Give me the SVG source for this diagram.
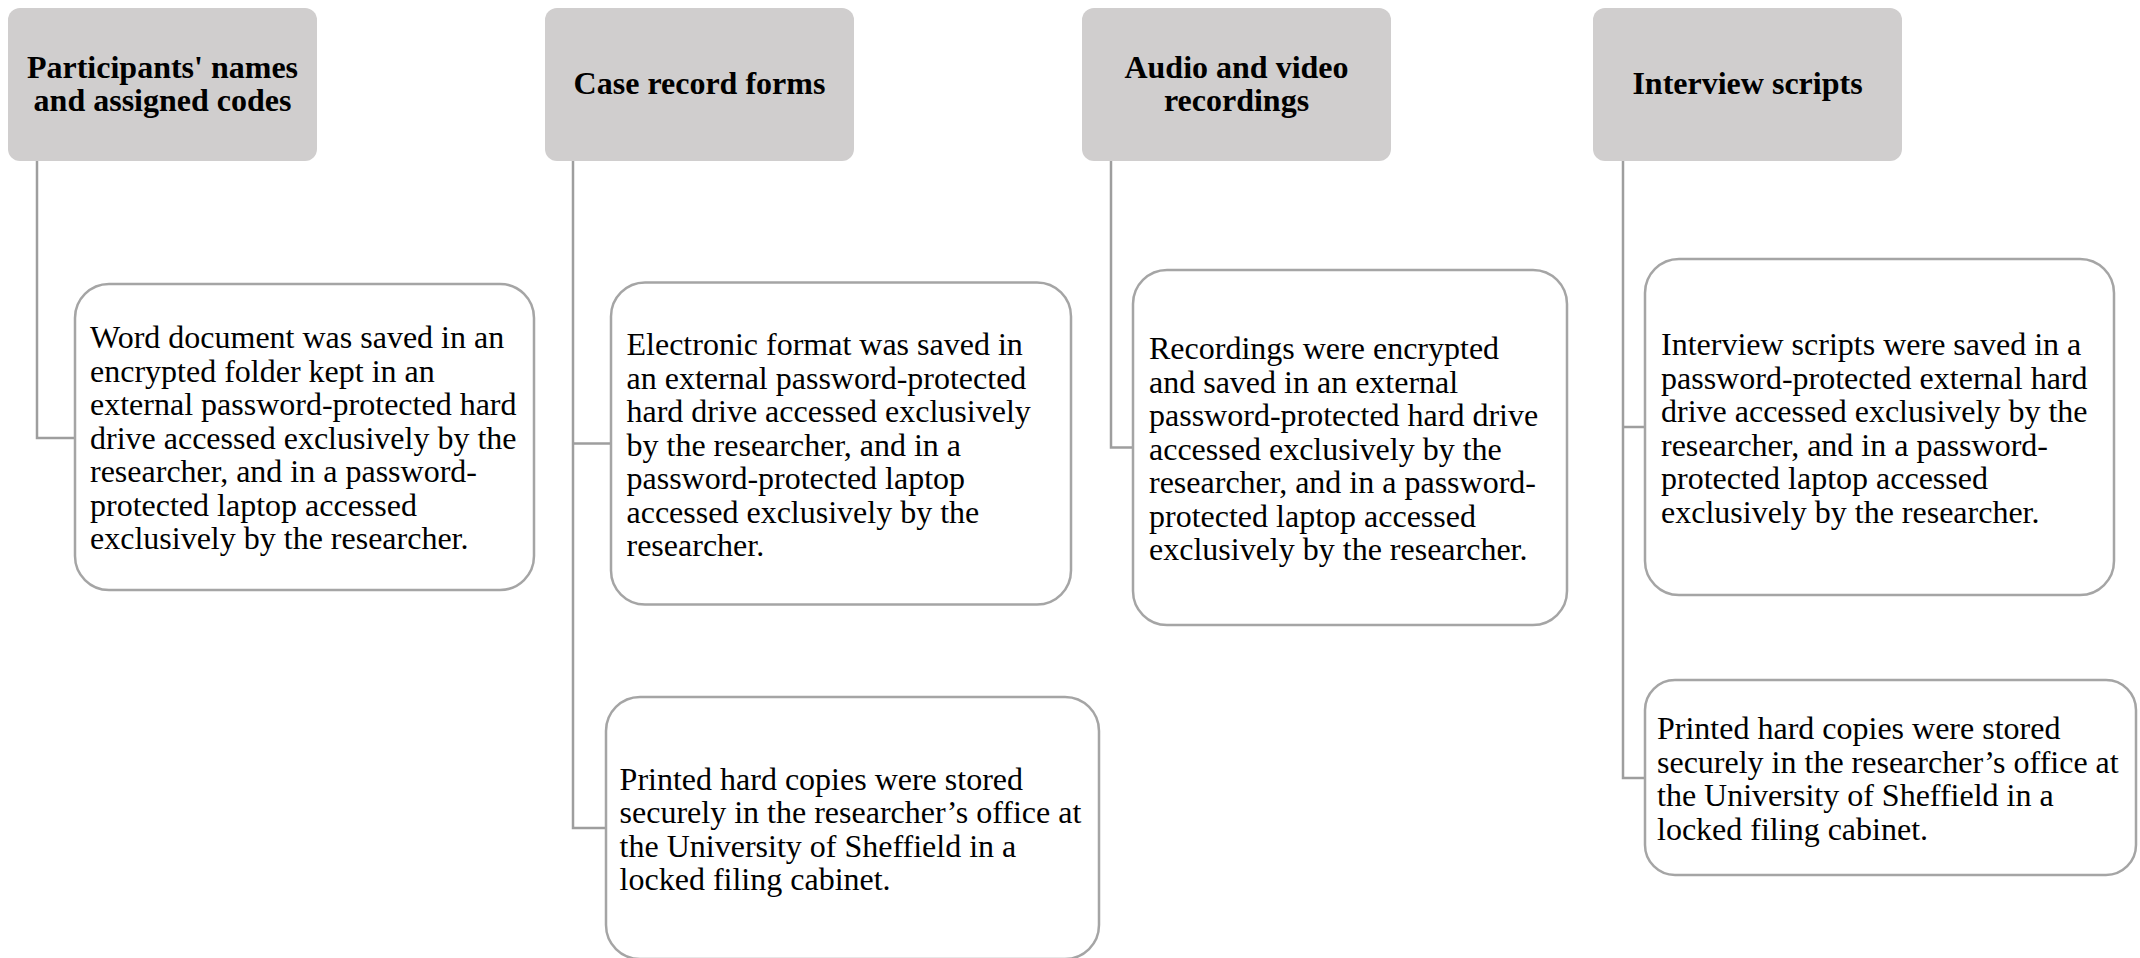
<svg xmlns="http://www.w3.org/2000/svg" width="2140" height="958" viewBox="0 0 2140 958">
  <style>
    .hdr { fill: #D0CECE; stroke: none; }
    .hdr-text { font-family: "Liberation Serif", "Times New Roman", serif; font-weight: bold; font-size: 32px; fill: #000; text-anchor: middle; }
    .box { fill: #FFFFFF; stroke: #A5A5A5; stroke-width: 2.5; }
    .body-text { font-family: "Liberation Serif", "Times New Roman", serif; font-size: 32px; fill: #000; }
    .link { fill: none; stroke: #9E9E9E; stroke-width: 2.5; }
  </style>

  <rect width="2140" height="958" fill="#FFFFFF"/>

  <!-- tree connectors -->
  <g id="connectors">
    <path class="link" d="M37 161 V438 H75"/>
    <path class="link" d="M573 161 V828 H606 M573 443.6 H611"/>
    <path class="link" d="M1111 161 V447.5 H1133"/>
    <path class="link" d="M1623 161 V778 H1645 M1623 427 H1645"/>
  </g>

  <!-- column headers -->
  <g id="hdr-participants">
    <rect class="hdr" x="8" y="8" width="309" height="153" rx="12"/>
    <text class="hdr-text" x="162.5" y="77.5">Participants' names</text>
    <text class="hdr-text" x="162.5" y="111">and assigned codes</text>
  </g>
  <g id="hdr-case-forms">
    <rect class="hdr" x="545" y="8" width="309" height="153" rx="12"/>
    <text class="hdr-text" x="699.5" y="94">Case record forms</text>
  </g>
  <g id="hdr-recordings">
    <rect class="hdr" x="1082" y="8" width="309" height="153" rx="12"/>
    <text class="hdr-text" x="1236.5" y="77.5">Audio and video</text>
    <text class="hdr-text" x="1236.5" y="111">recordings</text>
  </g>
  <g id="hdr-scripts">
    <rect class="hdr" x="1593" y="8" width="309" height="153" rx="12"/>
    <text class="hdr-text" x="1747.5" y="94">Interview scripts</text>
  </g>

  <!-- storage detail boxes -->
  <g id="box-participants">
    <rect class="box" x="75" y="284" width="459" height="306" rx="34"/>
    <text class="body-text" x="90" y="348">
      <tspan x="90" dy="0">Word document was saved in an</tspan>
      <tspan x="90" dy="33.5">encrypted folder kept in an</tspan>
      <tspan x="90" dy="33.5">external password-protected hard</tspan>
      <tspan x="90" dy="33.5">drive accessed exclusively by the</tspan>
      <tspan x="90" dy="33.5">researcher, and in a password-</tspan>
      <tspan x="90" dy="33.5">protected laptop accessed</tspan>
      <tspan x="90" dy="33.5">exclusively by the researcher.</tspan>
    </text>
  </g>

  <g id="box-case-electronic">
    <rect class="box" x="611" y="282.5" width="460" height="322" rx="34"/>
    <text class="body-text" x="626.5" y="355">
      <tspan x="626.5" dy="0">Electronic format was saved in</tspan>
      <tspan x="626.5" dy="33.5">an external password-protected</tspan>
      <tspan x="626.5" dy="33.5">hard drive accessed exclusively</tspan>
      <tspan x="626.5" dy="33.5">by the researcher, and in a</tspan>
      <tspan x="626.5" dy="33.5">password-protected laptop</tspan>
      <tspan x="626.5" dy="33.5">accessed exclusively by the</tspan>
      <tspan x="626.5" dy="33.5">researcher.</tspan>
    </text>
  </g>

  <g id="box-case-printed">
    <rect class="box" x="606" y="697" width="493" height="262" rx="34"/>
    <text class="body-text" x="619.6" y="789.5">
      <tspan x="619.6" dy="0">Printed hard copies were stored</tspan>
      <tspan x="619.6" dy="33.5">securely in the researcher’s office at</tspan>
      <tspan x="619.6" dy="33.5">the University of Sheffield in a</tspan>
      <tspan x="619.6" dy="33.5">locked filing cabinet.</tspan>
    </text>
  </g>

  <g id="box-recordings">
    <rect class="box" x="1133" y="270" width="434" height="355" rx="34"/>
    <text class="body-text" x="1149" y="359">
      <tspan x="1149" dy="0">Recordings were encrypted</tspan>
      <tspan x="1149" dy="33.5">and saved in an external</tspan>
      <tspan x="1149" dy="33.5">password-protected hard drive</tspan>
      <tspan x="1149" dy="33.5">accessed exclusively by the</tspan>
      <tspan x="1149" dy="33.5">researcher, and in a password-</tspan>
      <tspan x="1149" dy="33.5">protected laptop accessed</tspan>
      <tspan x="1149" dy="33.5">exclusively by the researcher.</tspan>
    </text>
  </g>

  <g id="box-scripts-electronic">
    <rect class="box" x="1645" y="259" width="469" height="336" rx="34"/>
    <text class="body-text" x="1661" y="355">
      <tspan x="1661" dy="0">Interview scripts were saved in a</tspan>
      <tspan x="1661" dy="33.5">password-protected external hard</tspan>
      <tspan x="1661" dy="33.5">drive accessed exclusively by the</tspan>
      <tspan x="1661" dy="33.5">researcher, and in a password-</tspan>
      <tspan x="1661" dy="33.5">protected laptop accessed</tspan>
      <tspan x="1661" dy="33.5">exclusively by the researcher.</tspan>
    </text>
  </g>

  <g id="box-scripts-printed">
    <rect class="box" x="1645" y="680" width="491" height="195" rx="30"/>
    <text class="body-text" x="1657" y="739">
      <tspan x="1657" dy="0">Printed hard copies were stored</tspan>
      <tspan x="1657" dy="33.5">securely in the researcher’s office at</tspan>
      <tspan x="1657" dy="33.5">the University of Sheffield in a</tspan>
      <tspan x="1657" dy="33.5">locked filing cabinet.</tspan>
    </text>
  </g>
</svg>
